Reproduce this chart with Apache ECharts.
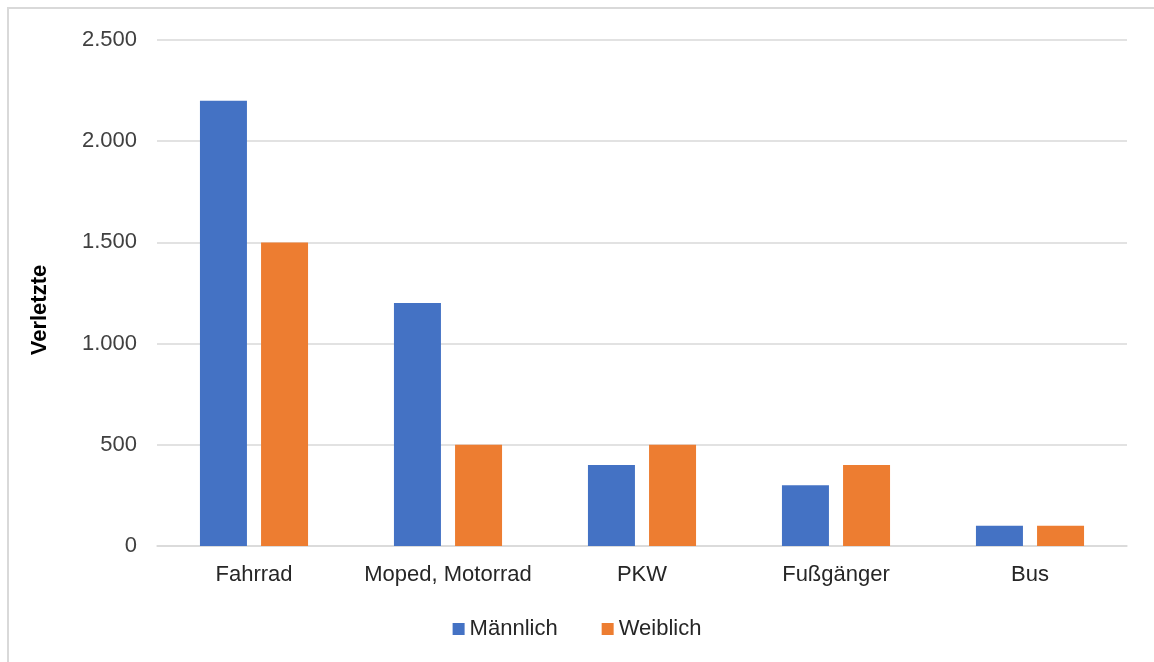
<!DOCTYPE html>
<html>
<head>
<meta charset="utf-8">
<script src="https://cdn.jsdelivr.net/npm/echarts@6/dist/echarts.min.js"></script>
<style>
  html, body { margin: 0; padding: 0; background: #fff; }
  #frame { position: absolute; left: 7px; top: 7px; width: 1160px; height: 670px; border-left: 2px solid #d9d9d9; border-top: 2px solid #d9d9d9; }
  #chart { position: absolute; left: 0; top: 0; width: 1154px; height: 662px; }
</style>
</head>
<body>
<div id="frame"></div>
<div id="chart"></div>
<script>
// Verletzte nach Verkehrsmittel und Geschlecht
const categories = ['Fahrrad', 'Moped, Motorrad', 'PKW', 'Fußgänger', 'Bus'];
const maennlich = [2200, 1200, 400, 300, 100];
const weiblich = [1500, 500, 500, 400, 100];
const yTicks = { min: 0, max: 2500, interval: 500 };

const chart = echarts.init(document.getElementById('chart'), null, { renderer: 'canvas' });

function deFormat(v) {
  return String(v).replace(/\B(?=(\d{3})+(?!\d))/g, '.');
}

const font = 'Liberation Sans, Arial, sans-serif';

chart.setOption({
  animation: false,
  textStyle: { fontFamily: font },
  grid: { left: 157, right: 27, top: 40, bottom: 116, containLabel: false },
  legend: {
    data: ['Männlich', 'Weiblich'],
    bottom: 17,
    left: 'center',
    icon: 'rect',
    itemWidth: 12,
    itemHeight: 12,
    itemGap: 44,
    textStyle: { fontSize: 22, color: '#262626', fontFamily: font }
  },
  xAxis: {
    type: 'category',
    data: categories,
    axisTick: { show: false },
    axisLine: { lineStyle: { color: '#d9d9d9', width: 1.5 } },
    axisLabel: { fontSize: 22, color: '#262626', margin: 18, interval: 0, hideOverlap: false, fontFamily: font }
  },
  yAxis: {
    type: 'value',
    min: yTicks.min,
    max: yTicks.max,
    interval: yTicks.interval,
    axisLine: { show: false },
    axisTick: { show: false },
    splitLine: { lineStyle: { color: '#d9d9d9', width: 1.5 } },
    axisLabel: { fontSize: 22, color: '#404040', margin: 20, fontFamily: font, formatter: deFormat }
  },
  graphic: [{
    type: 'text',
    x: 40,
    y: 310,
    rotation: Math.PI / 2,
    style: {
      text: 'Verletzte',
      font: 'bold 22px ' + font,
      fill: '#000',
      textAlign: 'center',
      textVerticalAlign: 'middle'
    }
  }],
  series: [
    { name: 'Männlich', type: 'bar', data: maennlich, itemStyle: { color: '#4472C4' }, barWidth: 47, barGap: '30%' },
    { name: 'Weiblich', type: 'bar', data: weiblich, itemStyle: { color: '#ED7D31' }, barWidth: 47, barGap: '30%' }
  ]
});
</script>
</body>
</html>
